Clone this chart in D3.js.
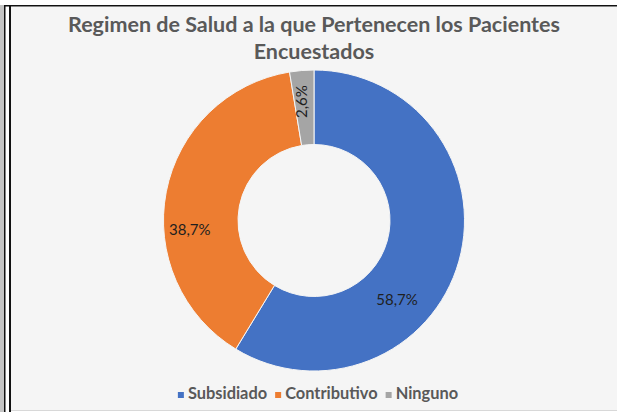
<!DOCTYPE html>
<html>
<head>
<meta charset="utf-8">
<script src="https://cdn.jsdelivr.net/npm/d3@7"></script>
<style>
  body { margin: 0; background: #fff; }
  svg { display: block; }
  text { font-family: Lato, "Open Sans", sans-serif; }
</style>
</head>
<body>
<div id="chart"></div>
<script>
const categories = ["Subsidiado", "Contributivo", "Ninguno"];
const values = [58.7, 38.7, 2.6];
const labels = ["58,7%", "38,7%", "2,6%"];
const colors = ["#4472C4", "#ED7D31", "#A5A5A5"];
const titleLines = ["Regimen de Salud a la que Pertenecen los Pacientes", "Encuestados"];

// manual nudges of the data labels away from the ring centroid (Excel moved them)
const labelNudge = [[-26, 49], [-13, 31], [-3, -6]];

const width = 617, height = 412;
const cx = 314, cy = 220.5;
const outerR = 150.5, innerR = 76;

const svg = d3.select("#chart").append("svg")
  .attr("width", width)
  .attr("height", height);

// frame
svg.append("rect").attr("x", 0).attr("y", 0).attr("width", width).attr("height", height).attr("fill", "#fff");
svg.append("rect").attr("x", 0).attr("y", 5).attr("width", 4).attr("height", height - 5).attr("fill", "#c4c4c4");
svg.append("rect").attr("x", 11).attr("y", 7).attr("width", width - 11).attr("height", 403).attr("fill", "#f5f5f5");
svg.append("line").attr("x1", 4.75).attr("x2", 4.75).attr("y1", 5).attr("y2", height).attr("stroke", "#111").attr("stroke-width", 1.5);
svg.append("line").attr("x1", 10).attr("x2", 10).attr("y1", 5).attr("y2", height).attr("stroke", "#111").attr("stroke-width", 2);
svg.append("line").attr("x1", 4).attr("x2", width).attr("y1", 5.75).attr("y2", 5.75).attr("stroke", "#111").attr("stroke-width", 1.5);
svg.append("line").attr("x1", 11).attr("x2", width).attr("y1", 410.5).attr("y2", 410.5).attr("stroke", "#d8d8d8").attr("stroke-width", 1);

// title
svg.append("g").selectAll("text")
  .data(titleLines)
  .enter()
  .append("text")
  .attr("x", cx)
  .attr("y", (d, i) => 32 + i * 27)
  .attr("text-anchor", "middle")
  .attr("font-size", 21.5)
  .attr("font-weight", "bold")
  .attr("fill", "#595959")
  .text(d => d);

const data = categories.map((c, i) => ({ key: c, value: values[i], label: labels[i], color: colors[i], nudge: labelNudge[i] }));

const pie = d3.pie().value(d => d.value).sort(null);
const arc = d3.arc().innerRadius(innerR).outerRadius(outerR);

const g = svg.append("g").attr("transform", "translate(" + cx + "," + cy + ")");

g.selectAll("path.slice")
  .data(pie(data))
  .enter()
  .append("path")
  .attr("class", "slice")
  .attr("d", arc)
  .attr("fill", d => d.data.color)
  .attr("stroke", "#f5f5f5")
  .attr("stroke-width", 1);

g.selectAll("text.lbl")
  .data(pie(data))
  .enter()
  .append("text")
  .attr("class", "lbl")
  .attr("transform", d => {
    const c = arc.centroid(d);
    const x = c[0] + d.data.nudge[0], y = c[1] + d.data.nudge[1];
    const rot = (d.endAngle - d.startAngle) < 0.3 ? -90 : 0;
    return "translate(" + x + "," + y + ") rotate(" + rot + ")";
  })
  .attr("text-anchor", "middle")
  .attr("dy", "0.35em")
  .attr("font-size", 15)
  .attr("fill", "#1f1f1f")
  .text(d => d.data.label);

// legend
const legend = svg.append("g");
const items = legend.selectAll("g").data(data).enter().append("g");
items.append("rect")
  .attr("width", 6).attr("height", 6)
  .attr("y", -7)
  .attr("fill", d => d.color);
items.append("text")
  .attr("x", 10)
  .attr("font-size", 16.4)
  .attr("font-weight", "bold")
  .attr("fill", "#595959")
  .text(d => d.key);

let xpos = 0;
items.each(function() {
  const w = d3.select(this).select("text").node().getComputedTextLength();
  d3.select(this).attr("transform", "translate(" + xpos + ",0)");
  xpos += 10 + w + 8;
});
xpos -= 8;
legend.attr("transform", "translate(" + (318 - xpos / 2) + ",399)");
</script>
</body>
</html>
